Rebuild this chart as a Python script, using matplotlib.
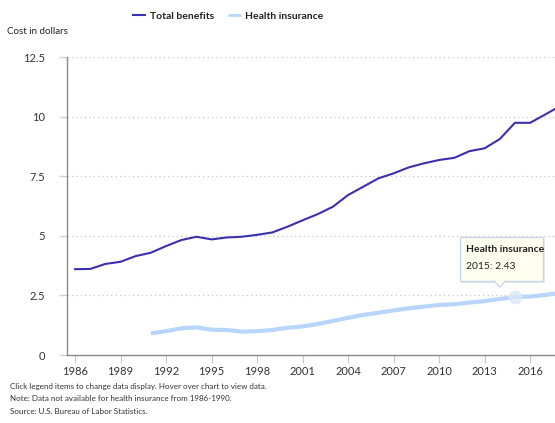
import matplotlib.pyplot as plt
from matplotlib.patches import Polygon, Rectangle

plt.rcParams['font.family'] = ['Lato', 'DejaVu Sans']

# annual cost per hour worked
years = list(range(1986, 2019))
total_benefits = [3.60, 3.61, 3.82, 3.91, 4.15, 4.29, 4.57, 4.82, 4.96, 4.85,
                  4.93, 4.96, 5.04, 5.14, 5.38, 5.65, 5.91, 6.22, 6.71, 7.06,
                  7.41, 7.62, 7.87, 8.04, 8.18, 8.27, 8.55, 8.67, 9.06, 9.74,
                  9.74, 10.09, 10.45]
hi_years = list(range(1991, 2019))
health_insurance = [0.91, 1.00, 1.12, 1.16, 1.06, 1.05, 0.98, 1.00, 1.05, 1.14,
                    1.20, 1.30, 1.43, 1.56, 1.68, 1.77, 1.87, 1.96, 2.03, 2.10,
                    2.13, 2.20, 2.26, 2.35, 2.43, 2.45, 2.52, 2.60]
xticks = list(range(1986, 2017, 3))
yticks = [0, 2.5, 5, 7.5, 10, 12.5]

fig = plt.figure(figsize=(5.55, 4.23), dpi=100)
ax = fig.add_axes([67/555, 68/423, 1 - 67/555, 298/423])

l1, = ax.plot(years, total_benefits, color='#3a30b0', lw=1.5, label='Total benefits')
l2, = ax.plot(hi_years, health_insurance, color='#b8d6fb', lw=3, label='Health insurance',
              solid_capstyle='butt')

# hover marker at 2015 (faint halo)
i15 = hi_years.index(2015)
ax.plot([2015], [health_insurance[i15]], 'o', ms=9, color='#dde9f9', alpha=0.8, zorder=5)

ax.set_xlim(1985.47, 2017.64)
ax.set_ylim(0, 12.5)
ax.set_xticks(xticks)
ax.set_yticks(yticks)
ax.set_yticklabels(['0', '2.5', '5', '7.5', '10', '12.5'])
ax.grid(axis='y', color='#c8c8c8', ls=(0, (1, 2.5)), lw=0.9)
ax.set_axisbelow(True)
for s in ['top', 'right']:
    ax.spines[s].set_visible(False)
for s in ['left', 'bottom']:
    ax.spines[s].set_color('#8a8a8a')
    ax.spines[s].set_linewidth(1.0)
ax.tick_params(axis='x', colors='#c0c8d0', length=6, labelsize=8, labelcolor='#333333', pad=2)
ax.tick_params(axis='y', colors='#c0d4ea', length=6, width=1, labelsize=8,
               labelcolor='#333333', pad=10)

# tooltip box
bx0, bx1, by0, by1 = 2011.38, 2016.85, 3.10, 4.95
ax.add_patch(Rectangle((bx0 + 0.12, by0 - 0.1), bx1 - bx0, by1 - by0, fc='#e8e8e8',
                       ec='none', zorder=6))
ax.add_patch(Rectangle((bx0, by0), bx1 - bx0, by1 - by0, fc='#fffff0', ec='#c8d8ea',
                       lw=1, zorder=7))
ax.add_patch(Polygon([(2013.6, by0 + 0.02), (2014.0, 2.85), (2014.4, by0 + 0.02)],
                     closed=False, fc='#fffff0', ec='#c8d8ea', lw=1, zorder=8))
ax.text(bx0 + 0.4, 4.42, 'Health insurance', fontsize=7.5, fontweight='bold',
        color='#222222', va='center', ha='left', zorder=9)
ax.text(bx0 + 0.4, 3.70, '2015: 2.43', fontsize=7.5, color='#222222',
        va='center', ha='left', zorder=9)

leg = fig.legend(handles=[l1, l2], loc='center', bbox_to_anchor=(228/555, 1 - 16/423),
                 ncol=2, frameon=False, fontsize=7.5, handlelength=1.2, columnspacing=1.4,
                 handletextpad=0.4)
for t in leg.get_texts():
    t.set_color('#222222')
    t.set_fontweight('bold')
leg.get_lines()[1].set_linewidth(2)

fig.text(7/555, 1 - 32/423, 'Cost in dollars', fontsize=7.0, color='#222222', va='center')
notes = ['Click legend items to change data display. Hover over chart to view data.',
         'Note: Data not available for health insurance from 1986-1990.',
         'Source: U.S. Bureau of Labor Statistics.']
for i, n in enumerate(notes):
    fig.text(10/555, 1 - (386 + 12.5*i)/423, n, fontsize=5.8, color='#333333', va='center')

fig.savefig('out.png', dpi=100)
